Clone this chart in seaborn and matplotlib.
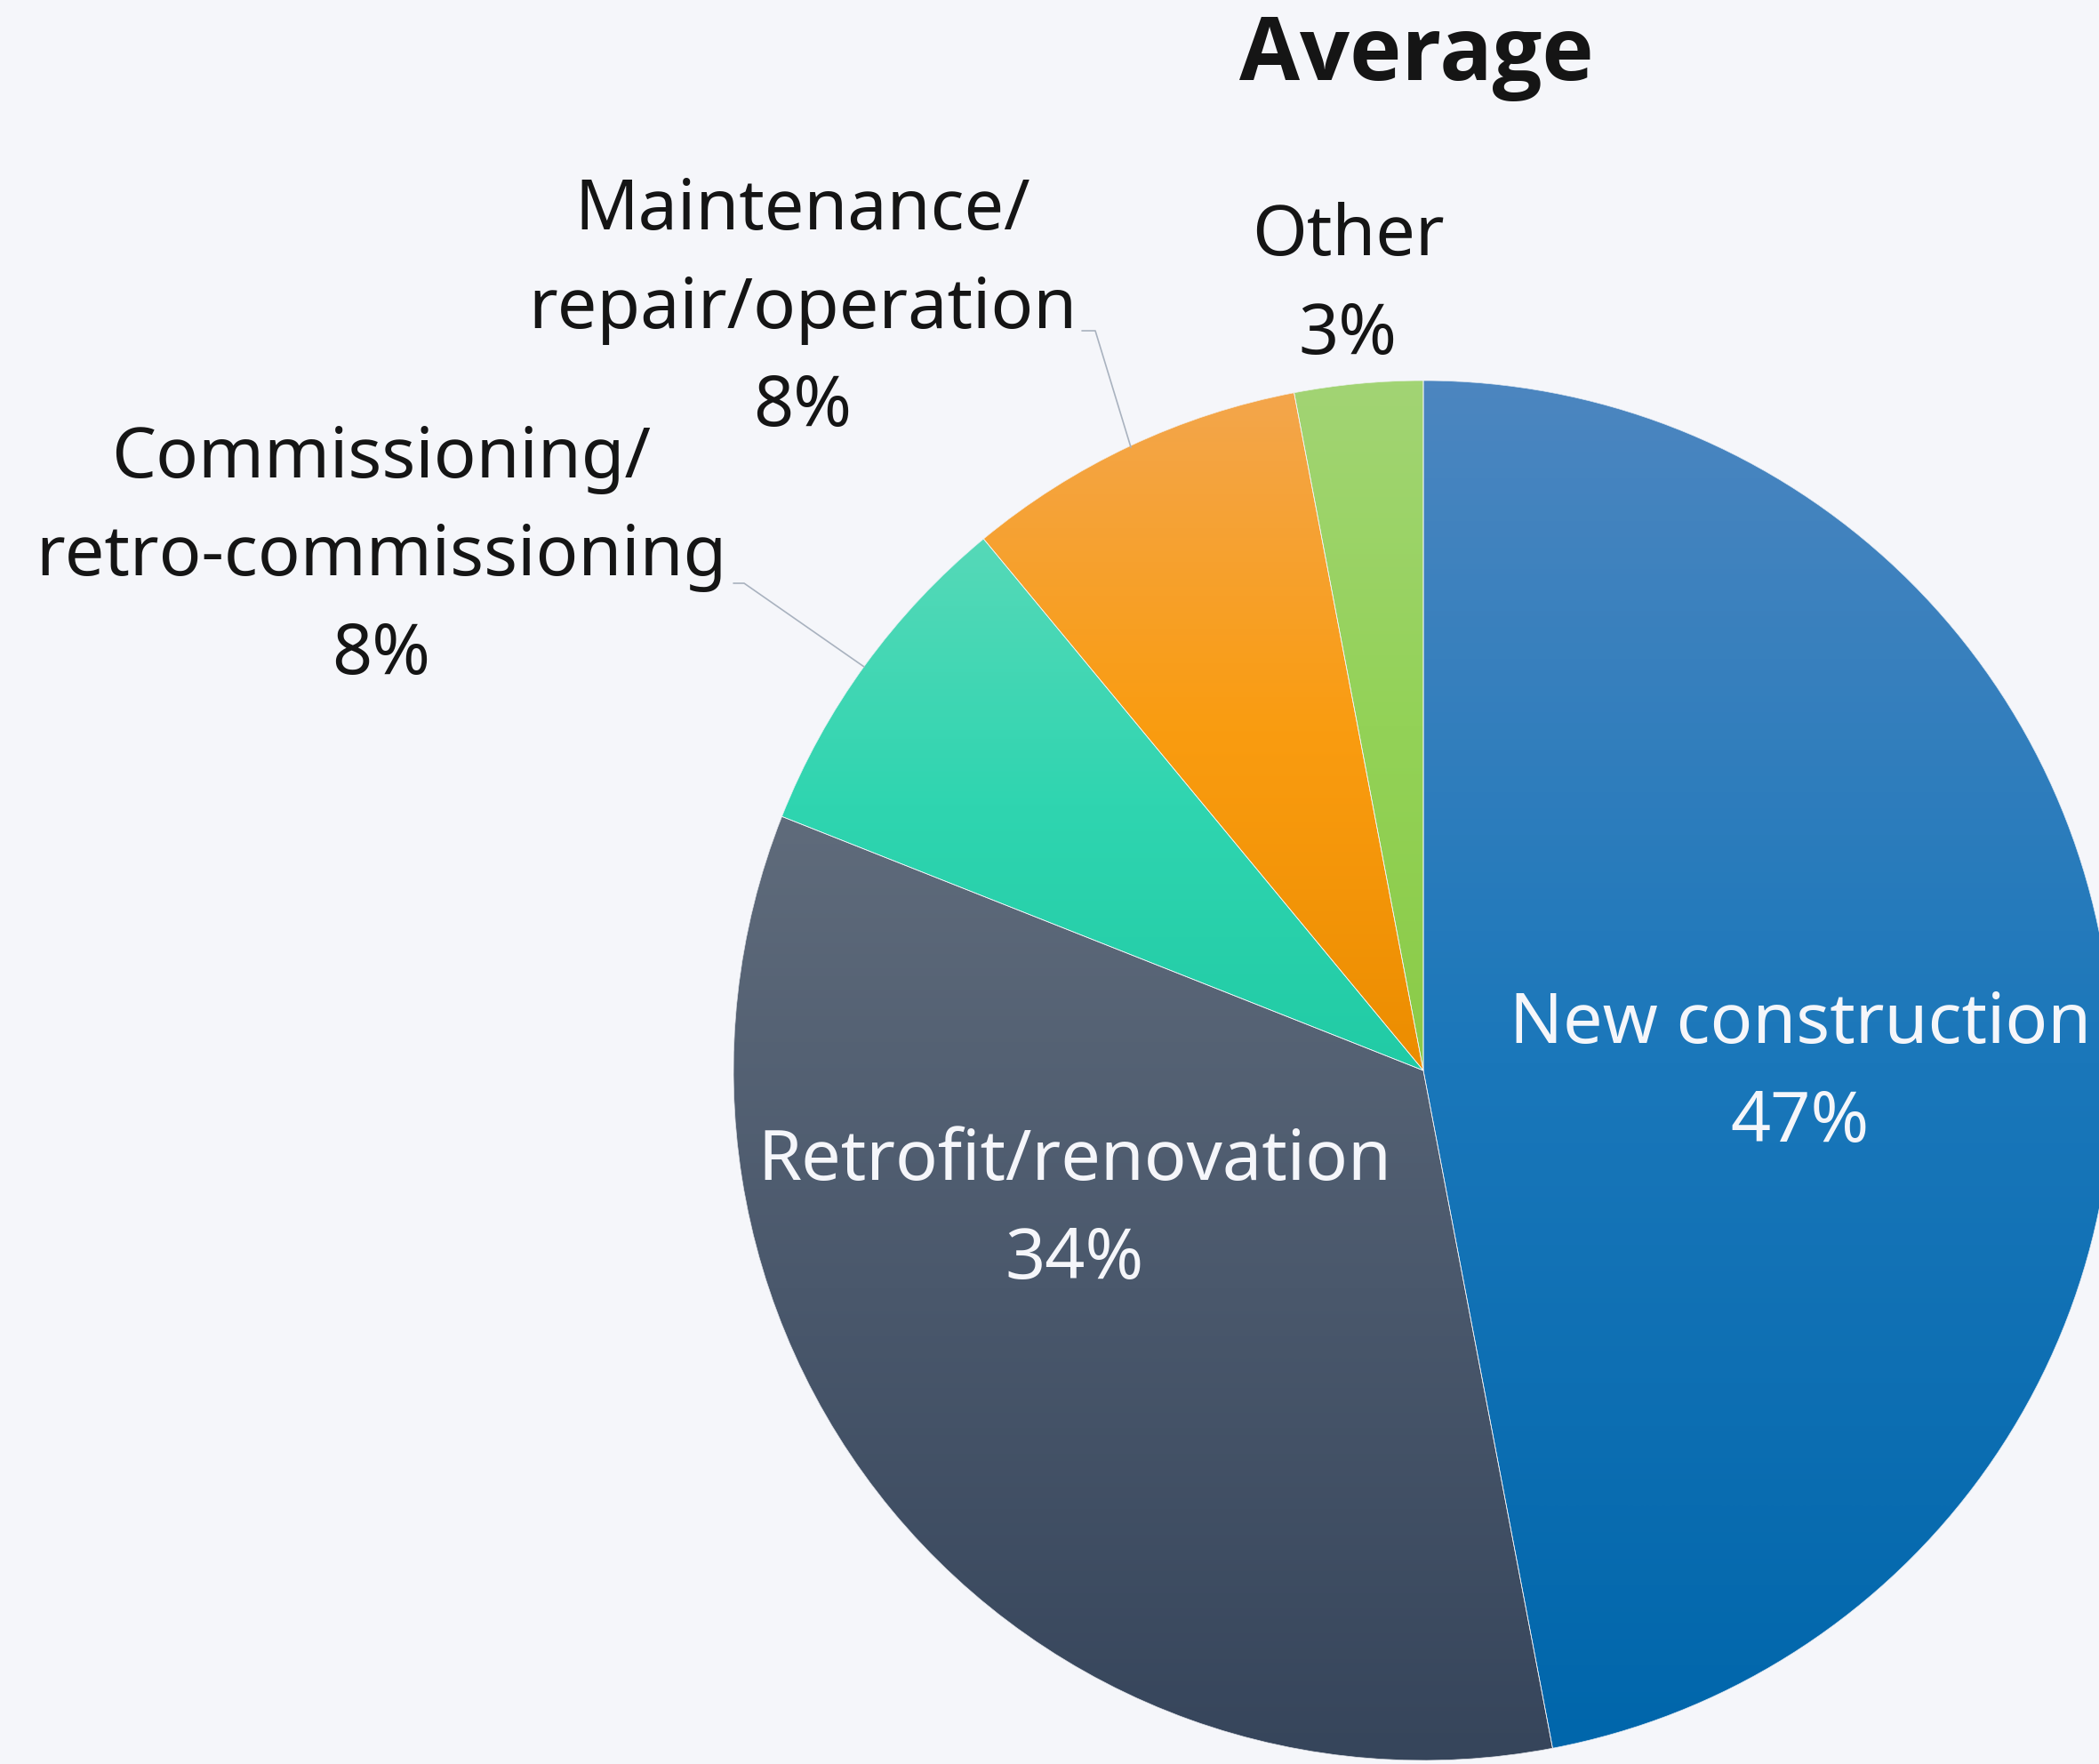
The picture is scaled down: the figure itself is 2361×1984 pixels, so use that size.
import numpy as np
import matplotlib
matplotlib.use("Agg")
import matplotlib.pyplot as plt
import matplotlib.colors as mcolors
import seaborn as sns

# data
categories = ["New construction", "Retrofit/renovation",
              "Commissioning/\nretro-commissioning",
              "Maintenance/\nrepair/operation", "Other"]
shares = [47, 34, 8, 8, 3]
top_colors = ["#4c86c0", "#5f6b7b", "#56d9b8", "#f3a64c", "#a2d474"]
mid_colors = ["#1a77ba", "#4a586c", "#2fd5b0", "#fa9c10", "#93d257"]
bottom_colors = ["#0066ab", "#36455b", "#21cba5", "#ec8d00", "#8bcb48"]

W, H = 2361, 1984
BG = "#f5f6fa"

sns.set_theme(style="white")
plt.rcParams["font.family"] = ["Noto Sans", "DejaVu Sans"]

fig = plt.figure(figsize=(W / 100, H / 100), dpi=100, facecolor=BG)
ax = fig.add_axes([0, 0, 1, 1])
ax.set_facecolor(BG)

cx, cy, R = 1601, H - 1204, 776
wedges, _ = ax.pie(shares, colors=sns.color_palette(mid_colors), startangle=90,
                   counterclock=False, radius=R, center=(cx, cy),
                   wedgeprops=dict(linewidth=0))

# vertical gradient on each slice
for w, c0, cm, c1 in zip(wedges, top_colors, mid_colors, bottom_colors):
    ext = w.get_path().get_extents()
    cmap = mcolors.LinearSegmentedColormap.from_list("g", [c0, cm, c1])
    grad = np.linspace(0, 1, 256)[:, None]
    im = ax.imshow(grad, cmap=cmap, extent=(ext.x0, ext.x1, ext.y0, ext.y1),
                   origin="upper", aspect="auto", interpolation="bilinear", zorder=2)
    im.set_clip_path(w)

# thin separators
ax.pie(shares, startangle=90, counterclock=False, radius=R, center=(cx, cy),
       colors=["none"] * len(shares),
       wedgeprops=dict(linewidth=0.5, edgecolor=BG, zorder=3))

ax.set_xlim(0, W)
ax.set_ylim(0, H)
ax.set_aspect("equal")
ax.axis("off")

fs = 57
lab_kw = dict(ha="center", va="center", fontsize=fs, linespacing=1.52, zorder=5)
ax.text(1209, H - 1362, f"{categories[1]}\n{shares[1]}%", color="#f5f6fa", **lab_kw)
ax.text(2025, H - 1208, f"{categories[0]}\n{shares[0]}%", color="#f5f6fa", **lab_kw)
ax.text(429, H - 627, f"{categories[2]}\n{shares[2]}%", color="#151515", **lab_kw)
ax.text(903, H - 348, f"{categories[3]}\n{shares[3]}%", color="#151515", **lab_kw)
ax.text(1516, H - 322, f"{categories[4]}\n{shares[4]}%", color="#151515", **lab_kw)

# connectors
lc = "#a9b2bf"
ax.plot([825, 837, 972], [H - 656, H - 656, H - 750], color=lc, lw=1.2, zorder=4)
ax.plot([1217, 1232, 1272], [H - 372, H - 372, H - 503], color=lc, lw=1.2, zorder=4)

ax.text(1593, H - 64, "Average", ha="center", va="center", fontsize=71,
        fontweight="bold", family=["Open Sans", "DejaVu Sans"], color="#151515",
        zorder=5)

fig.savefig("out.png", dpi=100, facecolor=BG)
